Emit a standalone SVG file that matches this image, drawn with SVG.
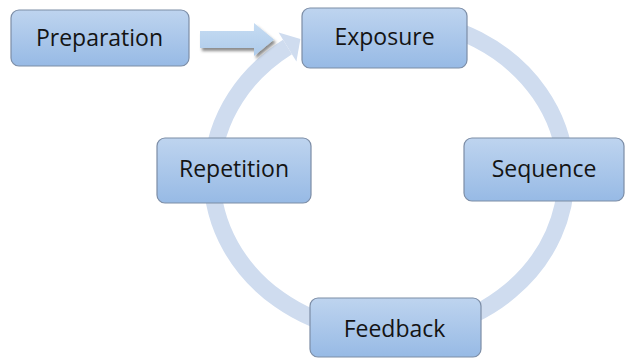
<svg xmlns="http://www.w3.org/2000/svg" width="627" height="358" viewBox="0 0 627 358">
  <style>
    .box { fill: url(#boxGrad); stroke: #7c8da6; stroke-width: 1.2; }
    .label { font-family: "Open Sans", "Liberation Sans", sans-serif; font-size: 23px; fill: #141414; text-anchor: middle; }
    .ring { fill: none; stroke: #cfdcef; stroke-width: 17; }
    .ringhead { fill: #cfdcef; }
    .block { fill: url(#arrowGrad); filter: url(#shadow); }
  </style>
  <defs>
    <linearGradient id="boxGrad" x1="0" y1="0" x2="0" y2="1">
      <stop offset="0" stop-color="#bed4ef"/>
      <stop offset="1" stop-color="#97bae5"/>
    </linearGradient>
    <linearGradient id="arrowGrad" x1="0" y1="0" x2="0" y2="1">
      <stop offset="0" stop-color="#c6dcf2"/>
      <stop offset="1" stop-color="#aecbeb"/>
    </linearGradient>
    <filter id="shadow" x="-20%" y="-30%" width="150%" height="170%">
      <feDropShadow dx="2" dy="3" stdDeviation="1.8" flood-color="#000" flood-opacity="0.45"/>
    </filter>
  </defs>
  <rect width="627" height="358" fill="#ffffff"/>

  <g id="connectors">
    <path class="ring" d="M 404.4 19.1 A 177 157.5 0 1 1 287.5 47"/>
    <polygon class="ringhead" points="278.6,32.6 300.4,39.1 296.4,61.4"/>
    <polygon class="block" points="200,31 254,31 254,23 274,39.5 254,56 254,48 200,48"/>
  </g>

  <g id="preparation">
    <rect class="box" x="11" y="10" width="178" height="56" rx="8"/>
    <text class="label" x="99.5" y="46">Preparation</text>
  </g>
  <g id="exposure">
    <rect class="box" x="302" y="8" width="165" height="60" rx="8"/>
    <text class="label" x="384.5" y="45">Exposure</text>
  </g>
  <g id="sequence">
    <rect class="box" x="464" y="138" width="160" height="63" rx="8"/>
    <text class="label" x="544" y="177">Sequence</text>
  </g>
  <g id="feedback">
    <rect class="box" x="310" y="298" width="171" height="59" rx="8"/>
    <text class="label" x="394.5" y="337">Feedback</text>
  </g>
  <g id="repetition">
    <rect class="box" x="157" y="138" width="154" height="65" rx="8"/>
    <text class="label" x="234" y="177">Repetition</text>
  </g>
</svg>
